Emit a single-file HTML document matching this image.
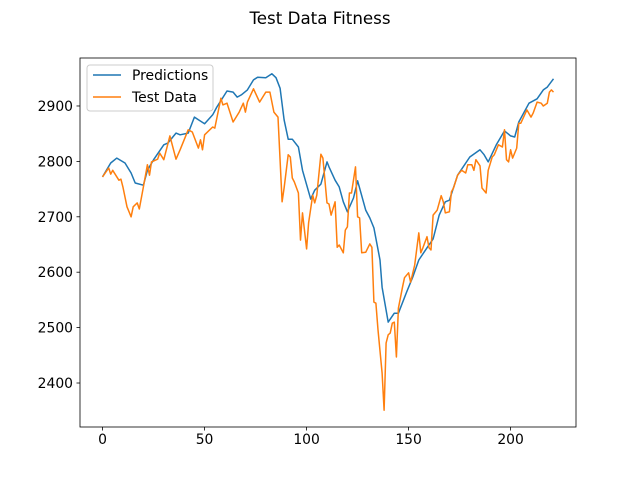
<!DOCTYPE html>
<html><head><meta charset="utf-8"><style>
body{margin:0;background:#fff;}
svg text{font-family:"DejaVu Sans","Liberation Sans",sans-serif;}
</style></head><body>
<svg id="chart" width="640" height="480" xmlns="http://www.w3.org/2000/svg">
<rect width="640" height="480" fill="#fff"/>
<text x="320" y="24" text-anchor="middle" font-size="16.7">Test Data Fitness</text>
<g id="plot"></g>
</svg>
<script>
const xTicks=[0,50,100,150,200];
const yTicks=[2400,2500,2600,2700,2800,2900];
const testIdx=[0,3,4,5,8,9,10,12,14,15,17,18,20,22,23,24,27,28,30,33,36,38,42,44,47,48,49,50,54,55,58,59,61,64,67,69,70,71,74,77,80,82,84,86,88,89,91,92,93,94,96,97,98,100,101,103,104,105,107,108,110,111,112,114,115,116,118,119,120,121,122,124,125,126,127,129,131,132,133,134,135,137,138,139,140,141,142,143,144,145,147,148,150,151,153,155,156,157,159,160,161,162,164,166,167,168,170,171,172,174,176,178,179,181,182,183,185,186,188,189,191,192,194,196,197,198,199,200,201,203,204,205,208,210,211,213,215,216,218,219,220,221];
const testVals=[2772,2788,2777,2784,2766,2768,2754,2718,2700,2718,2725,2714,2754,2794,2775,2799,2804,2815,2803,2846,2804,2821,2857,2853,2824,2839,2821,2848,2862,2860,2914,2902,2905,2871,2889,2905,2889,2907,2931,2907,2925,2925,2889,2880,2727,2752,2812,2808,2770,2763,2743,2658,2707,2642,2689,2739,2725,2739,2813,2806,2725,2723,2703,2727,2645,2649,2635,2676,2682,2743,2743,2790,2700,2698,2635,2636,2651,2645,2546,2544,2496,2418,2351,2472,2487,2490,2508,2510,2447,2535,2573,2590,2599,2582,2613,2671,2635,2644,2664,2644,2640,2703,2712,2738,2727,2707,2709,2745,2752,2775,2784,2779,2794,2794,2784,2803,2792,2752,2743,2784,2808,2812,2830,2826,2857,2803,2799,2821,2806,2824,2869,2869,2893,2880,2887,2907,2905,2900,2905,2925,2929,2925];
const predIdx=[0,4,7,11,14,16,20,22,25,30,32,36,38,42,45,47,50,54,56,61,64,66,68,71,74,76,80,83,85,87,89,91,93,96,98,102,104,107,110,111,114,116,118,120,123,125,129,131,133,136,137,140,143,145,149,152,155,159,162,165,168,170,174,180,185,187,189,193,197,200,202,204,209,213,216,218,221];
const predVals=[2772,2797,2806,2797,2779,2761,2757,2784,2803,2830,2833,2851,2848,2851,2880,2875,2868,2884,2898,2927,2925,2916,2920,2929,2947,2952,2951,2958,2951,2932,2875,2840,2840,2826,2784,2732,2748,2759,2799,2790,2766,2754,2727,2709,2734,2765,2712,2698,2680,2622,2573,2510,2526,2526,2564,2591,2622,2644,2660,2703,2727,2730,2775,2808,2821,2812,2799,2830,2855,2846,2844,2871,2905,2913,2929,2934,2949];

const L=80,R=576,T=58,B=427,x0=-11.05,x1=232.05,y0=2320.6,y1=2986.6;
const sx=v=>L+(v-x0)/(x1-x0)*(R-L);
const sy=v=>B-(v-y0)/(y1-y0)*(B-T);
const NS="http://www.w3.org/2000/svg";
const g=document.getElementById('plot');
function mk(t,a){const e=document.createElementNS(NS,t);for(const k in a)e.setAttribute(k,a[k]);g.appendChild(e);return e;}
function series(ix,vals,color,name){
  const d=ix.map((x,i)=>(i?'L':'M')+sx(x).toFixed(1)+','+sy(vals[i]).toFixed(1)).join(' ');
  const p=mk('path',{d:d,fill:'none',stroke:color,'stroke-width':1.5,'stroke-linejoin':'round'});
  
  
}
series(predIdx,predVals,'#1f77b4','predictions-line');
series(testIdx,testVals,'#ff7f0e','test-data-line');
const fr=mk('rect',{x:L,y:T,width:R-L,height:B-T,fill:'none',stroke:'#000','stroke-width':0.8});


xTicks.forEach(v=>{
  const x=sx(v);
  mk('line',{x1:x,x2:x,y1:B,y2:B+3.5,stroke:'#000','stroke-width':0.8});
  const t=mk('text',{x:x,y:B+17,'text-anchor':'middle','font-size':13.9});
  t.textContent=v;
  
  
});
yTicks.forEach(v=>{
  const y=sy(v);
  mk('line',{x1:L-3.5,x2:L,y1:y,y2:y,stroke:'#000','stroke-width':0.8});
  const t=mk('text',{x:L-7,y:y+5,'text-anchor':'end','font-size':13.9});
  t.textContent=v;
  
  
});
const lg=mk('rect',{x:87,y:65,width:126,height:46,rx:3,fill:'#fff','fill-opacity':0.8,stroke:'#ccc','stroke-width':1});


[['Predictions','#1f77b4',75],['Test Data','#ff7f0e',97]].forEach(([n,c,y])=>{
  mk('line',{x1:93,x2:121,y1:y,y2:y,stroke:c,'stroke-width':1.5});
  const t=mk('text',{x:132,y:y+5,'font-size':13.9});
  t.textContent=n;
  
  
});
</script>
</body></html>
